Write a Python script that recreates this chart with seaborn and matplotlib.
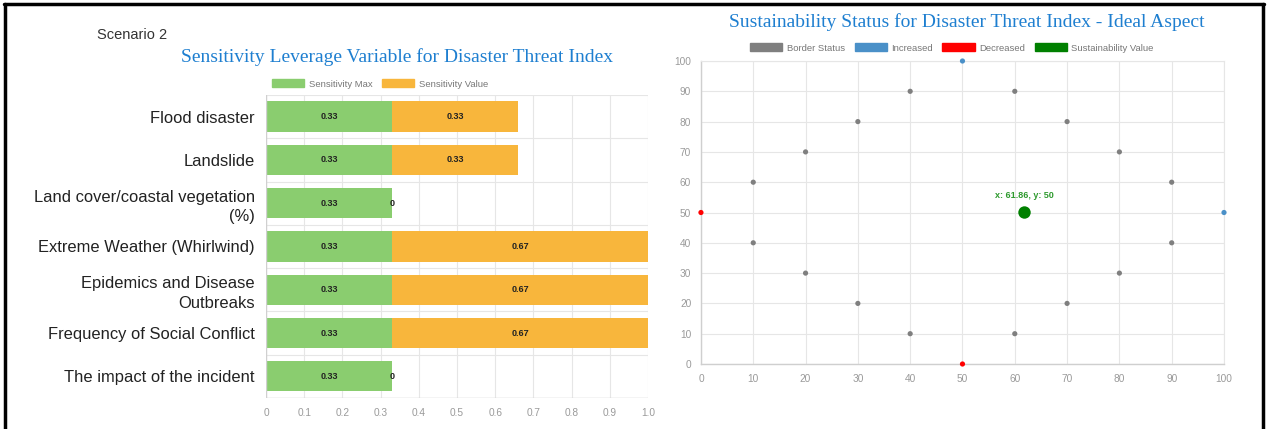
import pandas as pd
import seaborn as sns
import matplotlib.pyplot as plt
from matplotlib.patches import Patch
from matplotlib.lines import Line2D

# left chart data
categories = [
    "Flood disaster",
    "Landslide",
    "Land cover/coastal vegetation\n(%)",
    "Extreme Weather (Whirlwind)",
    "Epidemics and Disease\nOutbreaks",
    "Frequency of Social Conflict",
    "The impact of the incident",
]
sens_max = [0.33, 0.33, 0.33, 0.33, 0.33, 0.33, 0.33]
sens_value = [0.33, 0.33, 0.0, 0.67, 0.67, 0.67, 0.0]

# right chart data
border_x = [10, 10, 20, 20, 30, 30, 40, 40, 60, 60, 70, 70, 80, 80, 90, 90]
border_y = [60, 40, 70, 30, 80, 20, 90, 10, 90, 10, 80, 20, 70, 30, 60, 40]
increased_x = [50, 100]
increased_y = [100, 50]
decreased_x = [0, 50]
decreased_y = [50, 0]
sust_x = [61.86]
sust_y = [50]

GREEN = "#8ACD6F"
ORANGE = "#F8B63C"
GRID = "#E6E6E6"
TICK = "#9A9A9A"
BLUE_TITLE = "#1E7FD0"


def main() -> None:
    sns.set_style("white")
    plt.rcParams["font.family"] = ["Liberation Sans", "DejaVu Sans"]

    fig = plt.figure(figsize=(12.68, 4.29), dpi=100)

    # ---------- left: stacked horizontal bars ----------
    df = pd.DataFrame({"cat": categories, "max": sens_max, "value": sens_value})
    df["total"] = df["max"] + df["value"]

    ax1 = fig.add_axes([0.2098, 0.0723, 0.3013, 0.7063])
    sns.barplot(data=df, x="total", y="cat", color=ORANGE, saturation=1,
                width=0.7, linewidth=0, ax=ax1, zorder=2)
    sns.barplot(data=df, x="max", y="cat", color=GREEN, saturation=1,
                width=0.7, linewidth=0, ax=ax1, zorder=3)

    ax1.set_xlim(0, 1.0)
    ax1.set_ylim(len(categories) - 0.5, -0.5)
    ax1.set_xticks([i / 10 for i in range(11)])
    ax1.set_xticklabels(["0"] + [f"{i/10:.1f}" for i in range(1, 11)])
    ax1.set_yticks(range(len(categories)))
    ax1.set_yticklabels(categories, fontsize=11.9, color="#222222",
                        linespacing=1.4)
    ax1.set_xlabel("")
    ax1.set_ylabel("")
    ax1.tick_params(axis="x", labelsize=7.3, colors=TICK, length=4, color=GRID, pad=3)
    ax1.tick_params(axis="y", length=0, pad=8)
    for lab in ax1.get_xticklabels():
        lab.set_color(TICK)
    for x in [i / 10 for i in range(11)]:
        ax1.axvline(x, color=GRID, lw=0.8, zorder=0)
    for y in [i + 0.5 for i in range(-1, len(categories))]:
        ax1.axhline(y, color=GRID, lw=0.8, zorder=0)
    for s in ax1.spines.values():
        s.set_visible(False)
    ax1.axvline(0, color="#D0D0D0", lw=1, zorder=4)
    ax1.axhline(len(categories) - 0.5, color="#D0D0D0", lw=1, zorder=4)

    for i, (m, v) in enumerate(zip(sens_max, sens_value)):
        ax1.text(m / 2, i, f"{m:g}", ha="center", va="center", fontsize=6.5,
                 fontweight="bold", color="#222222", zorder=5)
        ax1.text(m + v / 2, i, f"{v:g}", ha="center", va="center", fontsize=6.5,
                 fontweight="bold", color="#222222", zorder=5)

    fig.text(97 / 1268, 1 - 35 / 429, "Scenario 2", fontsize=10.5, color="#333333",
             va="center", ha="left")
    fig.text(397 / 1268, 1 - 57 / 429,
             "Sensitivity Leverage Variable for Disaster Threat Index",
             fontsize=14, color=BLUE_TITLE, family="Liberation Serif",
             ha="center", va="center")
    leg1 = fig.legend(
        handles=[Patch(color=GREEN, label="Sensitivity Max"),
                 Patch(color=ORANGE, label="Sensitivity Value")],
        loc="center", bbox_to_anchor=(380 / 1268, 1 - 84 / 429), ncol=2,
        frameon=False, fontsize=6.8, handlelength=3.4, handleheight=0.9,
        columnspacing=1.0, handletextpad=0.5)
    for t in leg1.get_texts():
        t.set_color("#777777")

    # ---------- right: scatter ----------
    pts = pd.DataFrame({
        "x": border_x + increased_x + decreased_x + sust_x,
        "y": border_y + increased_y + decreased_y + sust_y,
        "status": (["Border Status"] * len(border_x)
                   + ["Increased"] * len(increased_x)
                   + ["Decreased"] * len(decreased_x)
                   + ["Sustainability Value"] * len(sust_x)),
    })
    palette = {"Border Status": "#7F7F7F", "Increased": "#4A90C8",
               "Decreased": "#FF0000", "Sustainability Value": "#008000"}
    sizes = {"Border Status": 14, "Increased": 14, "Decreased": 14,
             "Sustainability Value": 80}

    ax2 = fig.add_axes([0.5528, 0.1515, 0.4125, 0.7063])
    sns.scatterplot(data=pts, x="x", y="y", hue="status", palette=palette,
                    size="status", sizes=sizes, linewidth=0, legend=False,
                    ax=ax2, zorder=3, clip_on=False)
    ax2.set_xlim(0, 100)
    ax2.set_ylim(0, 100)
    ax2.set_xticks(range(0, 101, 10))
    ax2.set_yticks(range(0, 101, 10))
    ax2.set_xlabel("")
    ax2.set_ylabel("")
    ax2.tick_params(labelsize=7.3, colors=TICK, length=4, color=GRID, pad=3)
    ax2.grid(True, color=GRID, lw=0.8)
    ax2.set_axisbelow(True)
    for name, s in ax2.spines.items():
        if name in ("left", "bottom"):
            s.set_color("#CFCFCF")
            s.set_linewidth(1)
        else:
            s.set_color(GRID)
            s.set_linewidth(0.8)
    ax2.text(sust_x[0], sust_y[0] + 4, f"x: {sust_x[0]}, y: {sust_y[0]}",
             ha="center", va="bottom", fontsize=6.5, fontweight="bold",
             color="#2E9A2E")

    fig.text(967 / 1268, 1 - 22 / 429,
             "Sustainability Status for Disaster Threat Index - Ideal Aspect",
             fontsize=14, color=BLUE_TITLE, family="Liberation Serif",
             ha="center", va="center")
    leg2 = fig.legend(
        handles=[Patch(color=palette[k], label=k) for k in palette],
        loc="center", bbox_to_anchor=(952 / 1268, 1 - 48 / 429), ncol=4,
        frameon=False, fontsize=6.8, handlelength=3.4, handleheight=0.9,
        columnspacing=1.0, handletextpad=0.5)
    for t in leg2.get_texts():
        t.set_color("#777777")

    # outer frame (top, left, right)
    fig.add_artist(Line2D([4 / 1268, 1264 / 1268], [1 - 4 / 429, 1 - 4 / 429],
                          color="black", lw=2.5))
    fig.add_artist(Line2D([5 / 1268, 5 / 1268], [0, 1 - 4 / 429],
                          color="black", lw=2.5))
    fig.add_artist(Line2D([1263 / 1268, 1263 / 1268], [0, 1 - 4 / 429],
                          color="black", lw=2.5))

    fig.savefig("out.png", dpi=100)


if __name__ == "__main__":
    main()
